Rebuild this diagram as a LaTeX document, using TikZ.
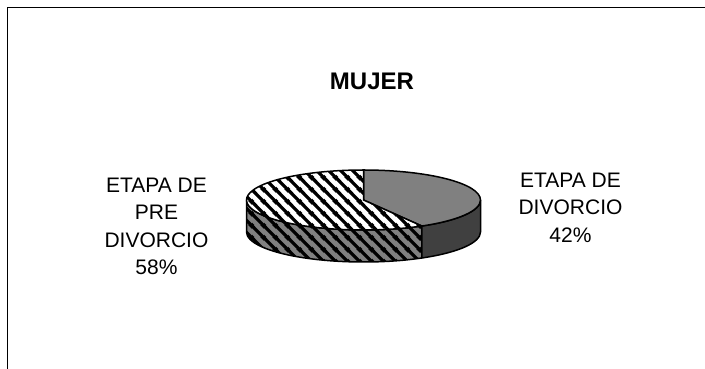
\documentclass[tikz,border=0pt]{standalone}
\usepackage{fontspec}
\setmainfont{Liberation Sans}
\usepackage{tikz}
\usetikzlibrary{patterns}
\usetikzlibrary{calc}
\usepackage{xcolor}

% wide downward diagonal hatch
\pgfdeclarepatternformonly{wide diagonal}{\pgfqpoint{0pt}{0pt}}{\pgfqpoint{12pt}{12pt}}{\pgfqpoint{12pt}{12pt}}{%
  \pgfsetlinewidth{3.5pt}
  \pgfpathmoveto{\pgfqpoint{-2pt}{14pt}}\pgfpathlineto{\pgfqpoint{14pt}{-2pt}}
  \pgfpathmoveto{\pgfqpoint{-3pt}{3pt}}\pgfpathlineto{\pgfqpoint{3pt}{-3pt}}
  \pgfpathmoveto{\pgfqpoint{9pt}{15pt}}\pgfpathlineto{\pgfqpoint{15pt}{9pt}}
  \pgfusepath{stroke}}

\definecolor{slicegray}{RGB}{128,128,128}
\definecolor{sidedark}{RGB}{64,64,64}
\tikzstyle{pieedge} = [draw=black, line width=1.5pt, line join=round]
\tikzstyle{hatch} = [postaction={pattern=wide diagonal, pattern color=black}]
\tikzstyle{slicelabel} = [align=center, inner sep=0pt, font=\fontsize{21}{27.3}\selectfont]

\begin{document}
\begin{tikzpicture}[x=1pt,y=1pt]
\useasboundingbox (0,0) rectangle (705,369);

% Frame
\draw[line width=1pt] (7.5,0) -- (7.5,361.5) -- (705,361.5);

% Title
\node[inner sep=0pt, anchor=north, font=\fontsize{24}{28}\selectfont\bfseries] (title) at (372,296) {MUJER};

% Pie centre (top face) and bottom face
\coordinate (top) at (363.5,169);
\coordinate (bot) at (363.5,137);

% Side of the pre divorcio slice
\filldraw[pieedge, fill=slicegray, hatch] ($(top)+(180:117 and 30)$) arc[start angle=180, end angle=299.9, x radius=117, y radius=30]
  -- ++(0,-32) arc[start angle=299.9, end angle=180, x radius=117, y radius=30] -- cycle;

% Side of the divorcio slice
\filldraw[pieedge, fill=sidedark] ($(top)+(299.9:117 and 30)$) arc[start angle=299.9, end angle=360, x radius=117, y radius=30]
  -- ++(0,-32) arc[start angle=360, end angle=299.9, x radius=117, y radius=30] -- cycle;

% Top of the divorcio slice (42%)
\filldraw[pieedge, fill=slicegray] (top) -- ++(90:30) arc[start angle=90, end angle=-60.1, x radius=117, y radius=30] -- cycle;

% Top of the pre divorcio slice (58%)
\filldraw[pieedge, fill=white, hatch] (top) -- ($(top)+(-60.1:117 and 30)$) arc[start angle=-60.1, end angle=-270, x radius=117, y radius=30] -- cycle;

% Labels
\node[slicelabel, anchor=north] (pre) at (156.5,191) {ETAPA DE\\PRE\\DIVORCIO\\58\%};
\node[slicelabel, anchor=north] (div) at (570.5,196) {ETAPA DE\\DIVORCIO\\42\%};
\end{tikzpicture}
\end{document}
